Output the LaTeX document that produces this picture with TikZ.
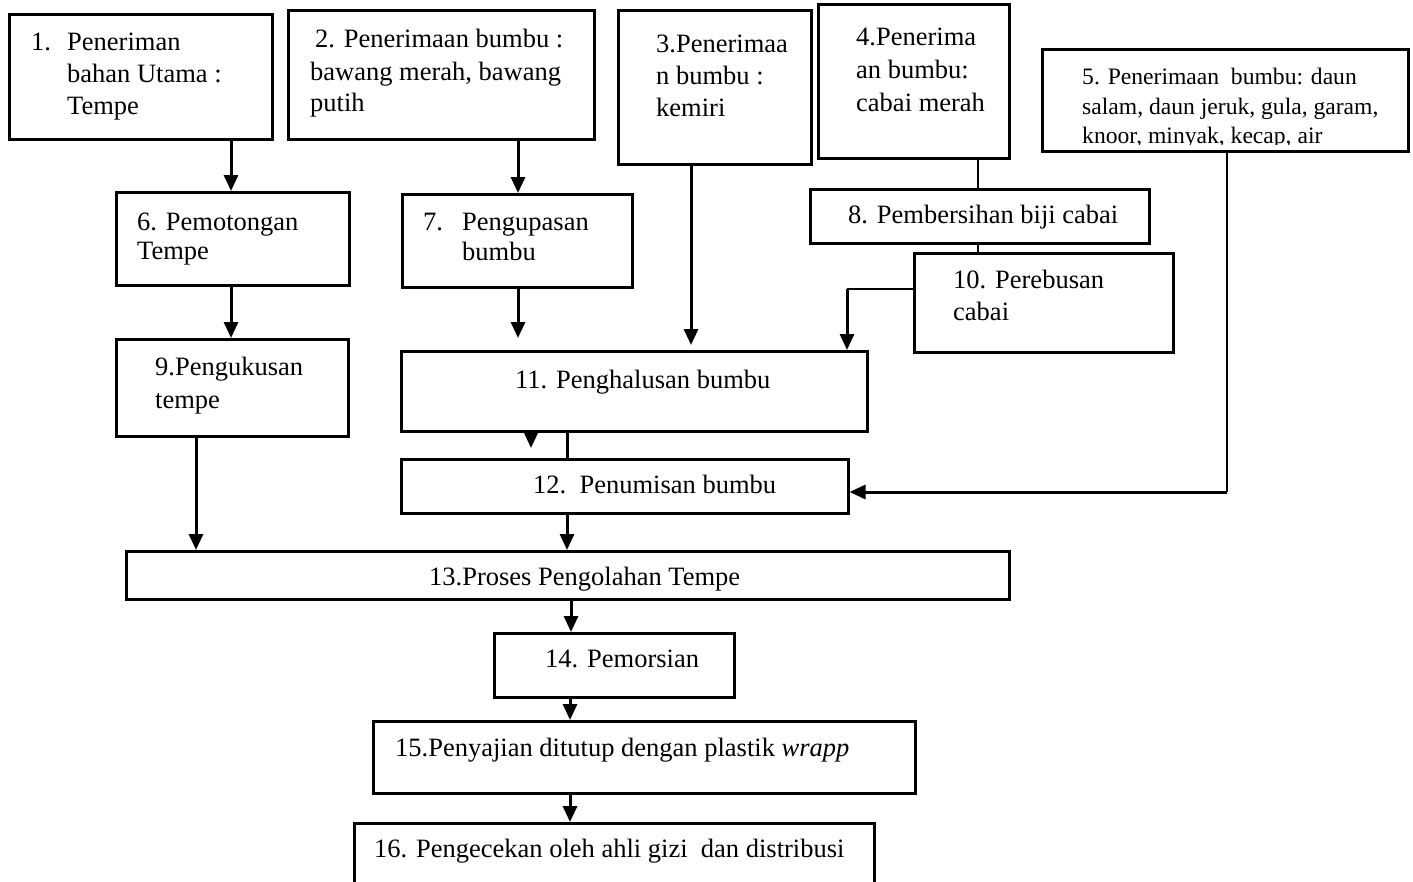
\documentclass[tikz,border=0pt]{standalone}
\usepackage{fontspec}
\setmainfont{Liberation Serif}
\usetikzlibrary{arrows.meta}
\begin{document}
\begin{tikzpicture}[x=1pt,y=-1pt,
  box/.style={draw, line width=2.5pt, anchor=north west, inner sep=0pt},
  txt/.style={anchor=base west, inner sep=0pt, font=\fontsize{26.5}{32}\selectfont},
  txs/.style={anchor=base west, inner sep=0pt, font=\fontsize{23.6}{30}\selectfont},
  arr/.style={line width=3pt, -{Triangle[length=16pt,width=14pt]}},
  thinline/.style={line width=1.5pt},
  thkline/.style={line width=3pt}]
\fill[white] (0,0) rectangle (1413,881);
\useasboundingbox (0,0) rectangle (1413,881);
\clip (0,0) rectangle (1413,881);

% boxes
\node[box, minimum width=263pt, minimum height=125pt] (b1) at (8,13) {};
\node[box, minimum width=306pt, minimum height=129pt] (b2) at (287,9) {};
\node[box, minimum width=193pt, minimum height=154pt] (b3) at (617,9) {};
\node[box, minimum width=191pt, minimum height=154pt] (b4) at (817,3) {};
\node[box, minimum width=366pt, minimum height=102pt] (b5) at (1041,48) {};
\node[box, minimum width=233pt, minimum height=93pt] (b6) at (115,191) {};
\node[box, minimum width=230pt, minimum height=93pt] (b7) at (401,193) {};
\node[box, minimum width=339pt, minimum height=54pt] (b8) at (809,188) {};
\node[box, minimum width=232pt, minimum height=97pt] (b9) at (115,338) {};
\node[box, minimum width=259pt, minimum height=99pt] (b10) at (913,252) {};
\node[box, minimum width=466pt, minimum height=80pt] (b11) at (400,350) {};
\node[box, minimum width=447pt, minimum height=54pt] (b12) at (400,458) {};
\node[box, minimum width=883pt, minimum height=48pt] (b13) at (125,550) {};
\node[box, minimum width=240pt, minimum height=64pt] (b14) at (493,632) {};
\node[box, minimum width=542pt, minimum height=72pt] (b15) at (372,720) {};
\node[box, minimum width=520pt, minimum height=80pt] (b16) at (353,822) {};

% texts
\node[txt] (t1n) at (31,50) {1.};
\node[txt] (t1a) at (67,50) {Peneriman};
\node[txt] (t1b) at (67,82) {bahan Utama :};
\node[txt] (t1c) at (67,114) {Tempe};

\node[txt] (t2a) at (315,47) {2. Penerimaan bumbu :};
\node[txt] (t2b) at (310,80) {bawang merah, bawang};
\node[txt] (t2c) at (310,111) {putih};

\node[txt] (t3a) at (656,52) {3.Penerimaa};
\node[txt] (t3b) at (656,84) {n bumbu :};
\node[txt] (t3c) at (656,116) {kemiri};

\node[txt] (t4a) at (856,45) {4.Penerima};
\node[txt] (t4b) at (856,78) {an bumbu:};
\node[txt] (t4c) at (856,111) {cabai merah};

\begin{scope}
\clip (1041,48) rectangle (1407,144);
\node[txs] (t5a) at (1082,84) {5. Penerimaan\ \ bumbu: daun};
\node[txs] (t5b) at (1082,114) {salam, daun jeruk, gula, garam,};
\node[txs] (t5c) at (1082,143) {knoor, minyak, kecap, air};
\end{scope}

\node[txt] (t6a) at (137,230) {6. Pemotongan};
\node[txt] (t6b) at (137,259) {Tempe};

\node[txt] (t7n) at (423,230) {7.};
\node[txt] (t7a) at (462,230) {Pengupasan};
\node[txt] (t7b) at (462,260) {bumbu};

\node[txt] (t8) at (848,223) {8. Pembersihan biji cabai};

\node[txt] (t9a) at (155,375) {9.Pengukusan};
\node[txt] (t9b) at (155,408) {tempe};

\node[txt] (t10a) at (953,288) {10. Perebusan};
\node[txt] (t10b) at (953,320) {cabai};

\node[txt] (t11) at (515,388) {11. Penghalusan bumbu};
\node[txt] (t12) at (533,493) {12.\ \ Penumisan bumbu};
\node[txt] (t13) at (429,585) {13.Proses Pengolahan Tempe};
\node[txt] (t14) at (545,667) {14. Pemorsian};
\node[txt] (t15) at (395,756) {15.Penyajian ditutup dengan plastik \textit{wrapp}};
\node[txt] (t16) at (374,857) {16. Pengecekan oleh ahli gizi\ \ dan distribusi};

% helper coordinates
\coordinate (e7) at (518,338);
\coordinate (e3) at (691,345);
\coordinate (k10) at (847,289);
\coordinate (k5) at (1227,492);
\coordinate (s11) at (531,448);
\coordinate (s9) at (196,438);

% connectors
\draw[arr] (231,0 |- b1.south) -- (231,0 |- b6.north);
\draw[arr] (518,0 |- b2.south) -- (518,0 |- b7.north);
\draw[arr] (231,0 |- b6.south) -- (231,0 |- b9.north);
\draw[arr] (518,0 |- b7.south) -- (e7);
\draw[arr] (691,0 |- b3.south) -- (e3);
\draw[thinline] (978,0 |- b4.south) -- (978,0 |- b8.north);
\draw[thinline] (978,0 |- b8.south) -- (978,0 |- b10.north);
\draw[thinline] (b10.west |- k10) -- (k10);
\draw[arr] (k10) -- (k10 |- b11.north);
\draw[thinline] (b5.south -| k5) -- (k5);
\draw[arr] (k5) -- (k5 -| b12.east);
\draw[arr] (531,0 |- b11.south) -- (s11);
\draw[thkline] (567,0 |- b11.south) -- (567,0 |- b12.north);
\draw[arr] (567,0 |- b12.south) -- (567,0 |- b13.north);
\draw[arr] (s9) -- (s9 |- b13.north);
\draw[arr] (571,0 |- b13.south) -- (571,0 |- b14.north);
\draw[arr] (570,0 |- b14.south) -- (570,0 |- b15.north);
\draw[arr] (570,0 |- b15.south) -- (570,0 |- b16.north);
\end{tikzpicture}
\end{document}
